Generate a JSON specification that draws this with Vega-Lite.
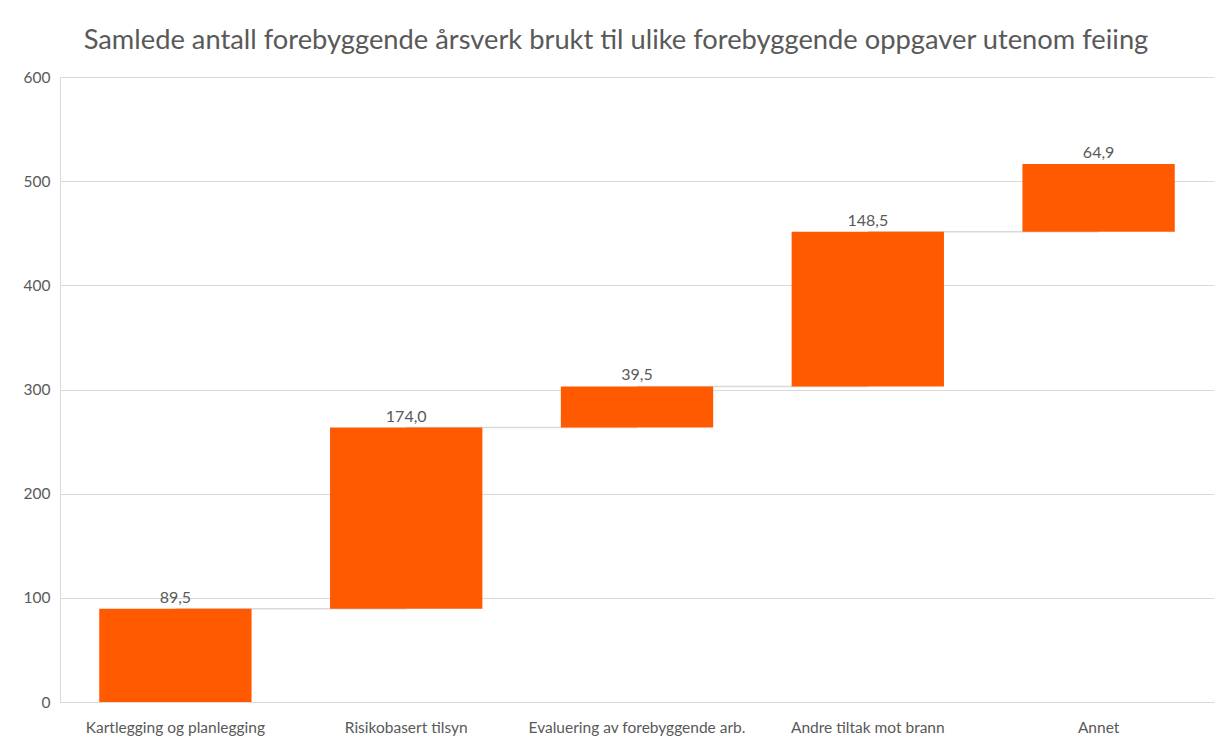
{
  "$schema": "https://vega.github.io/schema/vega-lite/v6.json",
  "width": 1154,
  "height": 625,
  "autosize": {"type": "none"},
  "padding": {"left": 60, "top": 77, "right": 11, "bottom": 38},
  "background": "white",
  "config": {
    "view": {"stroke": null},
    "font": "Lato",
    "axis": {"labelFont": "Lato", "labelColor": "#595959", "labelFontSize": 15.5}
  },
  "title": {
    "text": "Samlede antall forebyggende årsverk brukt til ulike forebyggende oppgaver utenom feiing",
    "font": "Lato",
    "fontSize": 27.3,
    "fontWeight": "normal",
    "color": "#595959",
    "anchor": "middle",
    "baseline": "alphabetic",
    "offset": -6,
    "dx": -21
  },
  "datasets": {
    "bars": [
      {"kategori": "Kartlegging og planlegging", "start": 0, "slutt": 89.5, "etikett": "89,5"},
      {"kategori": "Risikobasert tilsyn", "start": 89.5, "slutt": 263.5, "etikett": "174,0"},
      {"kategori": "Evaluering av forebyggende arb.", "start": 263.5, "slutt": 303.0, "etikett": "39,5"},
      {"kategori": "Andre tiltak mot brann", "start": 303.0, "slutt": 451.5, "etikett": "148,5"},
      {"kategori": "Annet", "start": 451.5, "slutt": 516.4, "etikett": "64,9"}
    ],
    "connectors": [
      {"fra": "Kartlegging og planlegging", "til": "Risikobasert tilsyn", "nivaa": 89.5},
      {"fra": "Risikobasert tilsyn", "til": "Evaluering av forebyggende arb.", "nivaa": 263.5},
      {"fra": "Evaluering av forebyggende arb.", "til": "Andre tiltak mot brann", "nivaa": 303.0},
      {"fra": "Andre tiltak mot brann", "til": "Annet", "nivaa": 451.5}
    ]
  },
  "layer": [
    {
      "data": {"name": "connectors"},
      "mark": {"type": "rule", "color": "#d9d9d9", "strokeWidth": 1.5},
      "encoding": {
        "x": {"field": "fra", "type": "nominal", "sort": null,
              "scale": {"domain": ["Kartlegging og planlegging", "Risikobasert tilsyn", "Evaluering av forebyggende arb.", "Andre tiltak mot brann", "Annet"]}},
        "x2": {"field": "til"},
        "y": {"field": "nivaa", "type": "quantitative"}
      }
    },
    {
      "data": {"name": "bars"},
      "mark": {"type": "bar", "color": "#FF5A00", "width": {"band": 0.66}},
      "encoding": {
        "x": {
          "field": "kategori", "type": "nominal", "sort": null,
          "scale": {"domain": ["Kartlegging og planlegging", "Risikobasert tilsyn", "Evaluering av forebyggende arb.", "Andre tiltak mot brann", "Annet"], "paddingInner": 0, "paddingOuter": 0},
          "axis": {"title": null, "labelAngle": 0, "labelAlign": "center", "labelLimit": 0, "ticks": false, "domain": true, "domainColor": "#d9d9d9", "labelPadding": 25, "grid": false}
        },
        "y": {
          "field": "start", "type": "quantitative",
          "scale": {"domain": [0, 600], "nice": false},
          "axis": {"title": null, "values": [0, 100, 200, 300, 400, 500, 600], "ticks": false, "domain": true, "domainColor": "#d9d9d9", "gridColor": "#d9d9d9", "labelPadding": 10}
        },
        "y2": {"field": "slutt"}
      }
    },
    {
      "data": {"name": "bars"},
      "mark": {"type": "text", "baseline": "bottom", "dy": -3, "fontSize": 16, "color": "#595959", "font": "Lato"},
      "encoding": {
        "x": {"field": "kategori", "type": "nominal", "sort": null},
        "y": {"field": "slutt", "type": "quantitative"},
        "text": {"field": "etikett"}
      }
    }
  ]
}
